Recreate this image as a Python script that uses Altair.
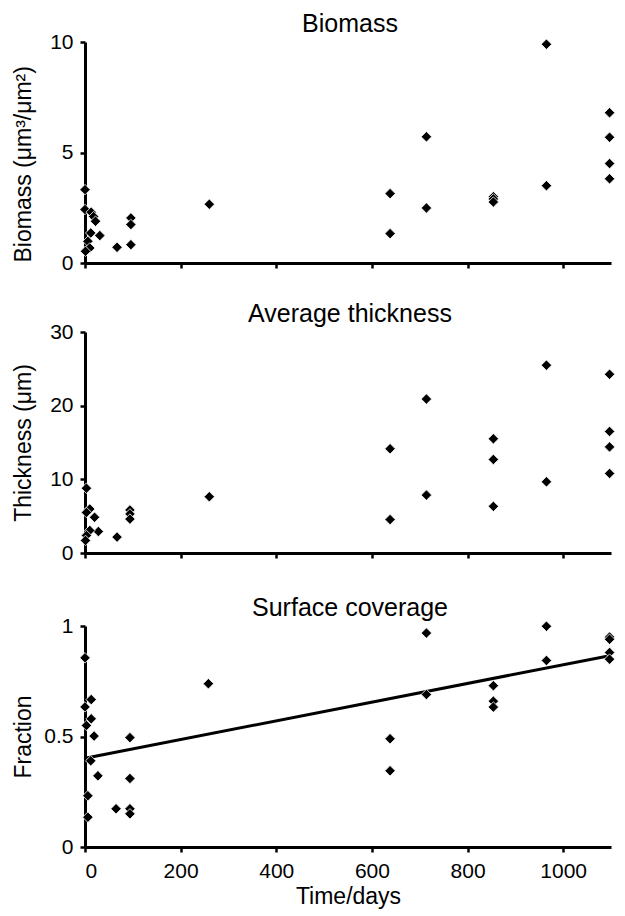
import altair as alt
import pandas as pd

FONT = "Liberation Sans"

# Biomass (um^3/um^2)
bio_day = [0, 0, 13, 18, 22, 12, 31, 6, 10, 1, 67, 96, 96, 96, 260,
           638, 638, 714, 714, 854, 854, 854, 965, 965, 1097, 1097, 1097, 1097]
bio_val = [3.32, 2.42, 2.3, 2.1, 1.89, 1.36, 1.24, 0.98, 0.68, 0.53, 0.71, 2.04, 1.74, 0.83, 2.66,
           3.14, 1.33, 5.71, 2.49, 3.0, 2.9, 2.76, 9.9, 3.5, 6.8, 5.69, 4.5, 3.81]

# Average thickness (um)
thk_day = [3, 10, 3, 20, 28, 10, 3, 1, 67, 94, 94, 94, 260,
           638, 638, 714, 714, 854, 854, 854, 965, 965, 1097, 1097, 1097, 1097]
thk_val = [8.8, 5.97, 5.5, 4.85, 2.92, 3.06, 2.38, 1.7, 2.16, 5.84, 5.3, 4.6, 7.64,
           14.15, 4.54, 20.9, 7.86, 15.5, 12.7, 6.33, 25.5, 9.66, 24.26, 16.5, 14.4, 10.8]

# Surface coverage (fraction)
frac_day = [0, 13, 0, 13, 3, 19, 12, 27, 6, 6, 65, 94, 94, 94, 94, 258,
            638, 638, 714, 714, 854, 854, 854, 965, 965, 1097, 1097, 1097, 1097]
frac_val = [0.856, 0.667, 0.634, 0.58, 0.55, 0.502, 0.39, 0.322, 0.232, 0.135, 0.173,
            0.495, 0.31, 0.173, 0.15, 0.739,
            0.49, 0.345, 0.968, 0.69, 0.73, 0.66, 0.633, 0.999, 0.844, 0.95, 0.94, 0.88, 0.85]

titles = ["Biomass", "Average thickness", "Surface coverage"]
y_titles = ["Biomass (\u03bcm\u00b3/\u03bcm\u00b2)", "Thickness (\u03bcm)", "Fraction"]
x_ticks = [0, 200, 400, 600, 800, 1000]
W, H = 526, 221


def panel(days, vals, title, ytitle, ydomain, yticks, title_y, title_align,
          bottom=False, regression=False):
    df = pd.DataFrame({"day": days, "val": vals})
    if bottom:
        xaxis = alt.Axis(values=x_ticks, format="d", title="Time/days", labels=True)
    else:
        xaxis = alt.Axis(values=x_ticks, title=None, labels=False)
    x = alt.X("day:Q", scale=alt.Scale(domain=[0, 1100], nice=False), axis=xaxis)
    y = alt.Y("val:Q", scale=alt.Scale(domain=ydomain, nice=False),
              axis=alt.Axis(values=yticks, format=".1~f", title=ytitle,
                            titleX=-55, titleY=title_y, titleAngle=-90,
                            titleBaseline="alphabetic", titleAlign=title_align))
    pts = alt.Chart(df).mark_point(shape="diamond", filled=True, size=110, color="black",
                                   stroke="white", strokeWidth=0.8, opacity=1).encode(x=x, y=y)
    head = alt.Chart(pd.DataFrame({"t": [title]})).mark_text(
        font=FONT, fontSize=25, color="black", align="center", baseline="alphabetic"
    ).encode(text="t:N", x=alt.value(W / 2 + 2), y=alt.value(-10))
    layers = [pts, head]
    if regression:
        line = alt.Chart(df).transform_regression("day", "val").mark_line(
            color="black", strokeWidth=3).encode(x=x, y=y)
        layers = [line, pts, head]
    return alt.layer(*layers).properties(width=W, height=H)


p1 = panel(bio_day, bio_val, titles[0], y_titles[0], [0, 10], [0, 5, 10], H - 1, "left")
p2 = panel(thk_day, thk_val, titles[1], y_titles[1], [0, 30], [0, 10, 20, 30], H / 2, "center")
p3 = panel(frac_day, frac_val, titles[2], y_titles[2], [0, 1], [0, 0.5, 1], H / 2, "center",
           bottom=True, regression=True)

top = alt.vconcat(p1, p2, spacing=27)
chart = alt.vconcat(top, p3, spacing=31, background="white",
                    padding={"left": 3, "top": 3, "right": 0, "bottom": 0}).configure_view(
    stroke="transparent"
).configure_axis(
    grid=False, domainColor="black", domainWidth=3, tickColor="black", tickWidth=2.5, tickSize=5,
    labelFont=FONT, labelFontSize=21, labelColor="black", labelPadding=7,
    titleFont=FONT, titleFontSize=23, titleFontWeight="normal", titleColor="black"
).configure_axisX(labelPadding=8, titlePadding=4, titleFontSize=23)

chart.save("out.html", embed_options={"renderer": "svg", "actions": False})
